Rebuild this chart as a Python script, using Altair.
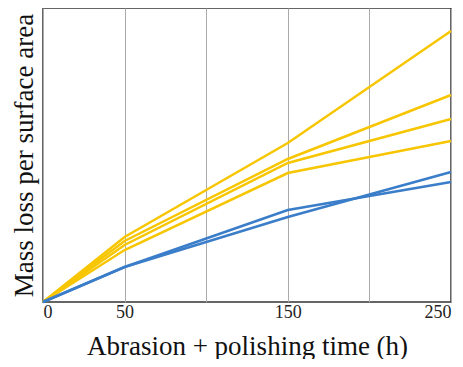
import altair as alt
import pandas as pd

times = [0, 50, 150, 250]
series = {
    "Y1": [0, 65, 159, 271],
    "Y2": [0, 61, 143, 207],
    "Y3": [0, 57, 139, 183],
    "Y4": [0, 52, 129, 161],
    "B1": [0, 35, 92, 120],
    "B2": [0, 35, 85, 130],
}
group = {"Y1": "yellow", "Y2": "yellow", "Y3": "yellow", "Y4": "yellow", "B1": "blue", "B2": "blue"}

rows = []
for name, vals in series.items():
    for t, v in zip(times, vals):
        rows.append({"series": name, "group": group[name], "t": t, "v": v})
df = pd.DataFrame(rows)

chart = alt.Chart(df).mark_line(strokeWidth=2.5).encode(
    x=alt.X("t:Q", scale=alt.Scale(domain=[0, 250], nice=False),
            axis=alt.Axis(values=[0, 50, 100, 150, 200, 250],
                          labelExpr="datum.value == 100 || datum.value == 200 ? '' : datum.label",
                          title="Abrasion + polishing time (h)",
                          grid=True, gridColor="#aaaaaa", gridWidth=1,
                          ticks=False, domain=False,
                          labelFont="Liberation Serif", labelFontSize=18, labelColor="#222",
                          labelPadding=1,
                          titleFont="Liberation Serif", titleFontSize=27, titleFontWeight="normal",
                          titleColor="#111", titlePadding=12)),
    y=alt.Y("v:Q", scale=alt.Scale(domain=[0, 294], nice=False),
            axis=alt.Axis(labels=False, ticks=False, grid=False, domain=False,
                          title="Mass loss per surface area",
                          titleFont="Liberation Serif", titleFontSize=27, titleFontWeight="normal",
                          titleColor="#111", titlePadding=5)),
    color=alt.Color("group:N", scale=alt.Scale(domain=["yellow", "blue"], range=["#F7C600", "#3A7DC9"]), legend=None),
    detail="series:N",
).properties(
    width=408, height=294,
    autosize=alt.AutoSizeParams(type="none"),
    padding={"left": 35, "top": 0, "right": 4, "bottom": 57},
).configure_view(stroke="#333333", strokeWidth=1.5)

chart.save("out.html", embed_options={"renderer": "svg", "actions": False})
